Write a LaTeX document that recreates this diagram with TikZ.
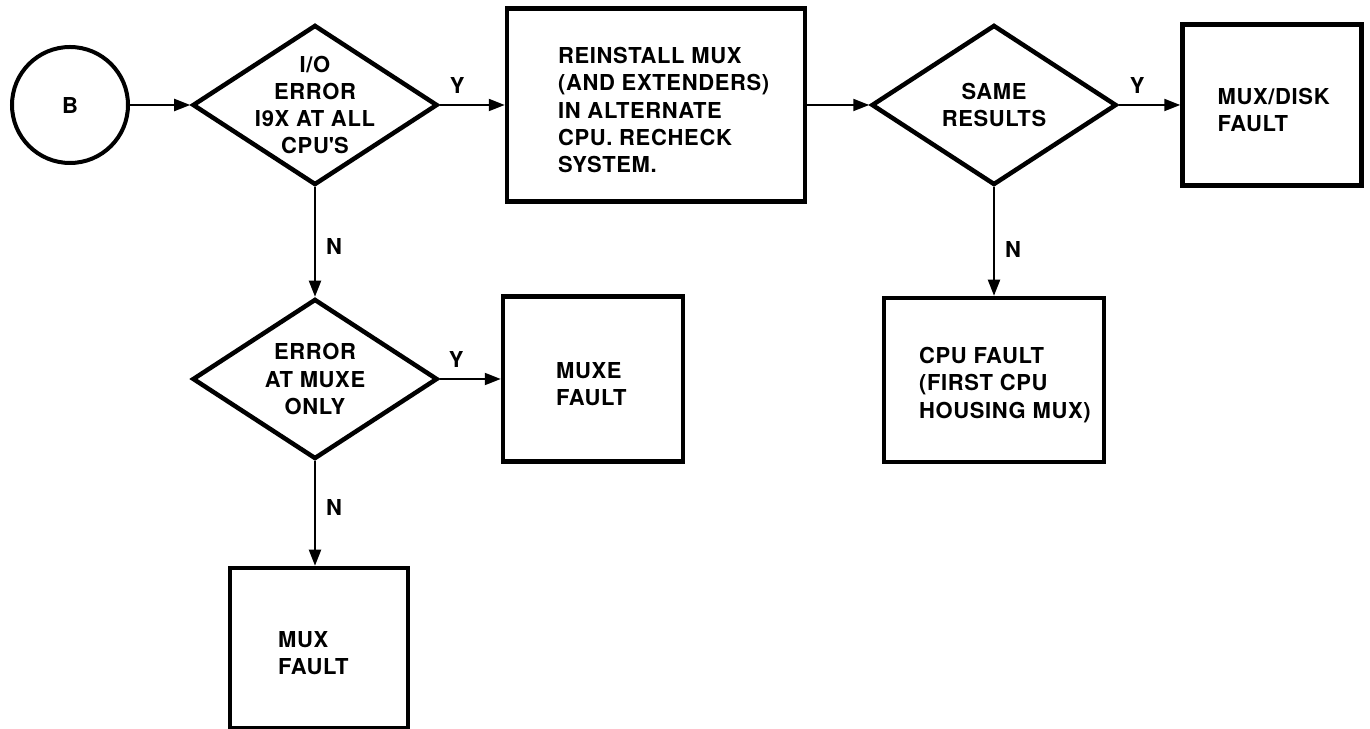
\documentclass[tikz,border=0pt]{standalone}
\usepackage{fontspec}
\setmainfont[LetterSpace=3]{TeX Gyre Heros}
\usetikzlibrary{shapes.geometric,arrows.meta,positioning}

\begin{document}
\begin{tikzpicture}[x=0.2mm, y=-0.2mm,
    font=\fontsize{12.5}{15.4}\selectfont\bfseries,
    box/.style={draw, line width=0.9mm, inner sep=0pt},
    dia/.style={draw, diamond, line width=0.9mm, inner sep=0pt,
        minimum width=49mm, minimum height=32mm},
    txt/.style={align=left, inner sep=0pt, yshift=-1mm},
    flow/.style={line width=0.4mm, -{Triangle[length=3.2mm, width=2.4mm]}},
    yn/.style={inner sep=2mm}]
    \useasboundingbox (0,0) rectangle (1370,729);

    % Entrada
    \node[circle, draw, line width=0.8mm, minimum size=23.2mm] (B) at (70,105) {B};

    % Decisiones
    \node[dia] (q1) at (315,105) {};
    \node[align=center] (q1t) at (q1) {I/O\\ERROR\\I9X AT ALL\\CPU\textquotesingle S};
    \node[dia] (q2) at (994,105) {};
    \node[align=center] (q2t) at (q2) {SAME\\RESULTS};
    \node[dia] (q3) at (315,379) {};
    \node[align=center] (q3t) at (q3) {ERROR\\AT MUXE\\ONLY};

    % Cajas
    \node[box, minimum width=59.6mm, minimum height=38.6mm] (b1) at (656,105) {};
    \node[txt, right=10.6mm of b1.west] (b1t) {REINSTALL MUX\\(AND EXTENDERS)\\IN ALTERNATE\\CPU. RECHECK\\SYSTEM.};
    \node[box, minimum width=35.8mm, minimum height=32.2mm] (b2) at (1272,105) {};
    \node[txt, right=7.4mm of b2.west] (b2t) {MUX/DISK\\FAULT};
    \node[box, minimum width=44mm, minimum height=32.8mm] (b3) at (994,380) {};
    \node[txt, right=7.4mm of b3.west] (b3t) {CPU FAULT\\(FIRST CPU\\HOUSING MUX)};
    \node[box, minimum width=36mm, minimum height=33mm] (b4) at (593,379) {};
    \node[txt, right=11mm of b4.west] (b4t) {MUXE\\FAULT};
    \node[box, minimum width=35.6mm, minimum height=32mm] (b5) at (319,648) {};
    \node[txt, right=10mm of b5.west] (b5t) {MUX\\FAULT};

    % Flechas
    \draw[flow] (B) -- (q1);
    \draw[flow] (q1) -- node[yn, above, pos=0.27] (y1) {Y} (b1);
    \draw[flow] (b1) -- (q2);
    \draw[flow] (q2) -- node[yn, above, pos=0.3] (y2) {Y} (b2);
    \draw[flow] (q2) -- node[yn, right, pos=0.57] (n2) {N} (b3);
    \draw[flow] (q1) -- node[yn, right, pos=0.54] (n1) {N} (q3);
    \draw[flow] (q3) -- node[yn, above, pos=0.27] (y3) {Y} (b4);
    \draw[flow] (q3) -- node[yn, right, pos=0.44] (n3) {N} (q3 |- b5.north);
\end{tikzpicture}
\end{document}
